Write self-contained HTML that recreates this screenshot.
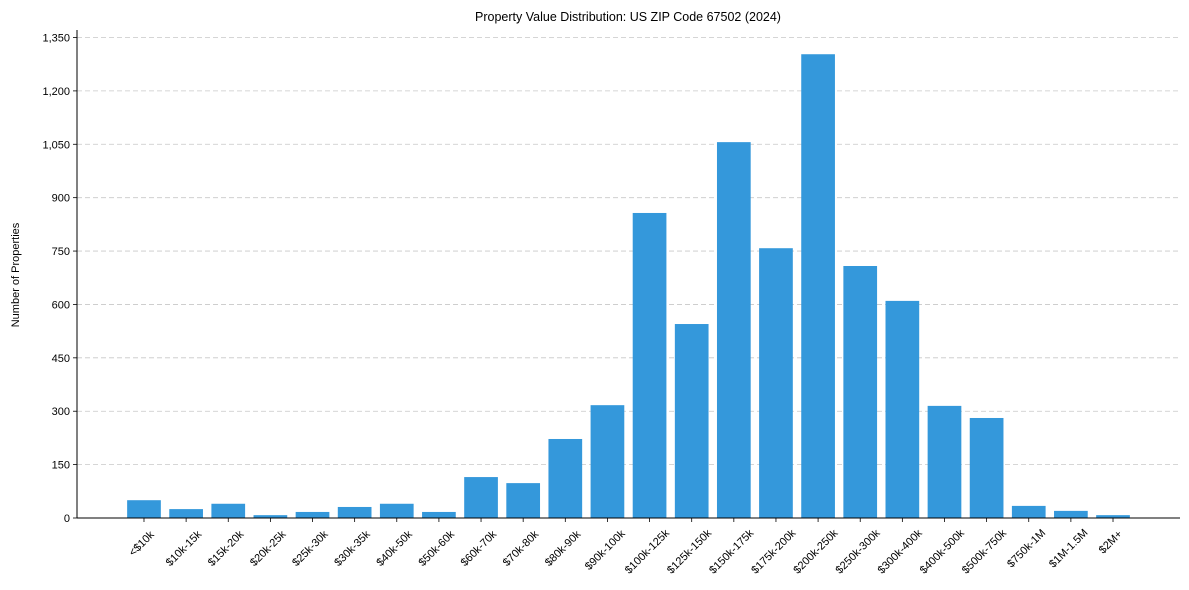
<!DOCTYPE html>
<html><head><meta charset="utf-8"><style>
body{margin:0;background:#fff;}
svg{display:block;font-family:"Liberation Sans",Arial,sans-serif;}
</style></head><body>
<svg id="chart" width="1189" height="590" viewBox="0 0 1189 590">
<text x="628" y="21" font-size="12.5" text-anchor="middle" fill="#000">Property Value Distribution: US ZIP Code 67502 (2024)</text>
<text transform="translate(19,275) rotate(-90)" font-size="11" text-anchor="middle" fill="#000">Number of Properties</text>
<g id="grid"></g><g id="bars"></g><g id="axes"></g>
</svg>
<script>
const categories=["<$10k","$10k-15k","$15k-20k","$20k-25k","$25k-30k","$30k-35k","$40k-50k","$50k-60k","$60k-70k","$70k-80k","$80k-90k","$90k-100k","$100k-125k","$125k-150k","$150k-175k","$175k-200k","$200k-250k","$250k-300k","$300k-400k","$400k-500k","$500k-750k","$750k-1M","$1M-1.5M","$2M+"];
const values=[50,25,40,8,17,31,40,17,115,98,222,317,857,545,1056,758,1303,708,610,315,281,34,20,8];
const yTicks=[0,150,300,450,600,750,900,1050,1200,1350];
const yTickLabels=["0","150","300","450","600","750","900","1,050","1,200","1,350"];
const NS="http://www.w3.org/2000/svg";
const L=77,R=1180,B=518,T=30;
const xMin=-1.59,xMax=categories.length-1+1.59;
const yFor=v=>B-v*(480.5/1350);
const xFor=i=>L+(i-xMin)*(R-L)/(xMax-xMin);
const bw=0.8*(R-L)/(xMax-xMin);
function mk(t,a,p){const e=document.createElementNS(NS,t);for(const k in a)e.setAttribute(k,a[k]);p.appendChild(e);return e;}
const grid=document.getElementById('grid'),bars=document.getElementById('bars'),axes=document.getElementById('axes');
yTicks.forEach((v,i)=>{const y=yFor(v);
 if(v>0){const g=mk('line',{x1:L,x2:R,y1:y,y2:y,stroke:'#c8c8c8','stroke-dasharray':'5,3','stroke-width':0.8},grid);
 
 }
 const t=mk('line',{x1:L-4,x2:L,y1:y,y2:y,stroke:'#000','stroke-width':0.8},axes);
 
 
 const tx=mk('text',{x:L-7,y:y+4,'font-size':11,'text-anchor':'end',fill:'#000'},axes);tx.textContent=yTickLabels[i];
 
 
});
categories.forEach((c,i)=>{const x=xFor(i),y=yFor(values[i]);
 const r=mk('rect',{x:x-bw/2,y:y,width:bw,height:B-y,fill:'#3498db'},bars);
 
 
 const t=mk('line',{x1:x,x2:x,y1:B,y2:B+4,stroke:'#000','stroke-width':0.8},axes);
 
 
 const tx=mk('text',{x:0,y:0,'font-size':11,'text-anchor':'middle',fill:'#000',transform:`translate(${x},${B+20+c.length*1.6}) rotate(-45)`},axes);tx.textContent=c;
 
 
});
const ya=mk('line',{x1:L,x2:L,y1:T,y2:B,stroke:'#000','stroke-width':1},axes);


const xa=mk('line',{x1:L,x2:R,y1:B,y2:B,stroke:'#000','stroke-width':1},axes);


</script>
</body></html>
